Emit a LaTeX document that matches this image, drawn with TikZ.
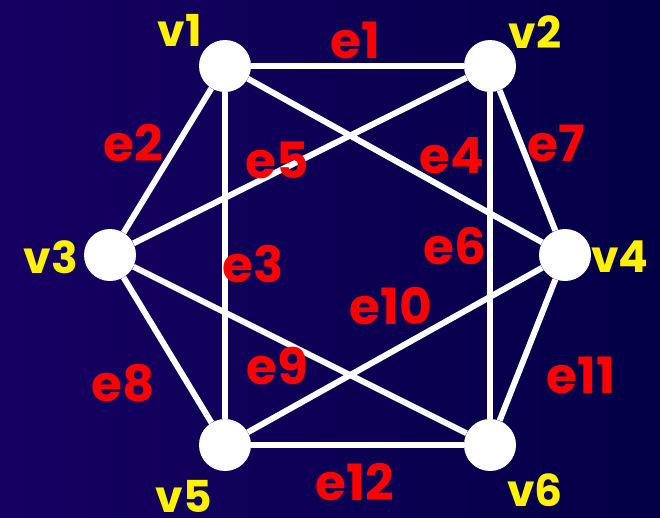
\documentclass[tikz,border=0pt]{standalone}
\usepackage{fontspec}
\newfontfamily\gfont{Poppins}
\begin{document}
\begin{tikzpicture}[x=1pt,y=-1pt,
    vert/.style={circle,fill=white,minimum size=52pt,inner sep=0pt},
    edge/.style={white,line width=6pt},
    elab/.style={red,font=\gfont\bfseries\fontsize{50}{50}\selectfont,inner sep=0pt},
    vlab/.style={yellow,font=\gfont\bfseries\fontsize{44}{44}\selectfont,inner sep=0pt}]

    % background
    \fill[left color={rgb,255:red,22;green,0;blue,98},right color={rgb,255:red,3;green,0;blue,70}] (0,0) rectangle (660,517);
    \useasboundingbox (0,0) rectangle (660,517);

    % vertices
    \node[vert] (v1) at (225,66) {};
    \node[vert] (v2) at (490,66) {};
    \node[vert] (v3) at (110,255) {};
    \node[vert] (v4) at (565,255) {};
    \node[vert] (v5) at (225,445) {};
    \node[vert] (v6) at (490,445) {};

    % edges
    \foreach \a/\b in {v1/v2,v1/v3,v1/v5,v1/v4,v2/v3,v2/v6,v2/v4,v3/v5,v3/v6,v4/v5,v4/v6,v5/v6}
    \draw[edge] (\a) -- (\b);

    % vertex labels
    \node[vlab] (l1) at (180,30) {v1};
    \node[vlab] (l2) at (535,32) {v2};
    \node[vlab] (l3) at (51,257) {v3};
    \node[vlab] (l4) at (620,257) {v4};
    \node[vlab] (l5) at (184,496) {v5};
    \node[vlab] (l6) at (535,490) {v6};

    % edge labels
    \node[elab] (le1) at (355,40) {e1};
    \node[elab] (le2) at (133,143) {e2};
    \node[elab] (le3) at (253,264) {e3};
    \node[elab] (le4) at (452,156) {e4};
    \node[elab] (le5) at (277,160) {e5};
    \node[elab] (le6) at (455,246) {e6};
    \node[elab] (le7) at (556,143) {e7};
    \node[elab] (le8) at (123,383) {e8};
    \node[elab] (le9) at (277,366) {e9};
    \node[elab] (le10) at (391,306) {e10};
    \node[elab] (le11) at (581,375) {e11};
    \node[elab] (le12) at (355,482) {e12};
\end{tikzpicture}
\end{document}
